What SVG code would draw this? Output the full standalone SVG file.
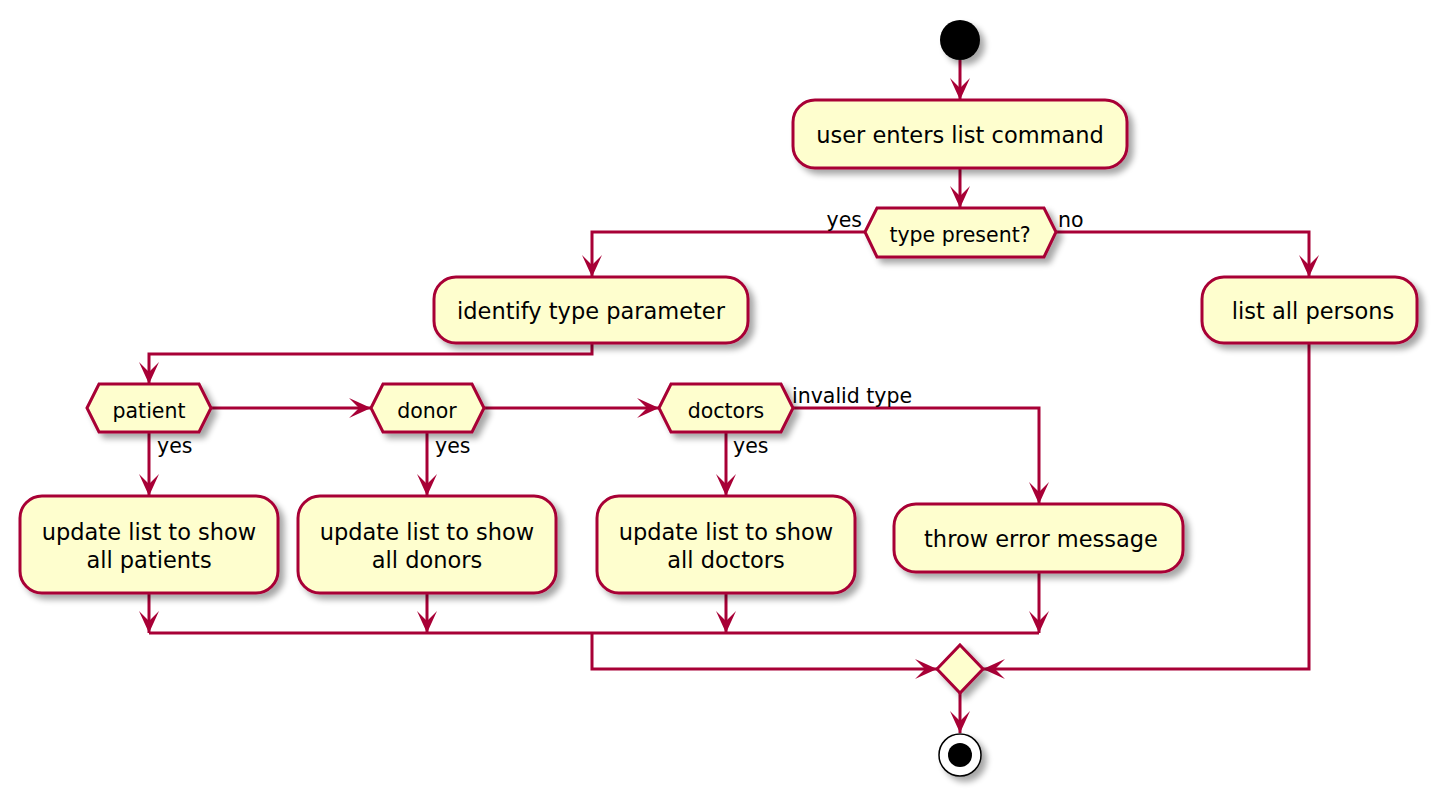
<svg xmlns="http://www.w3.org/2000/svg" width="1436" height="797" viewBox="0 0 1436 797">
<style>
.box{fill:#FEFECE;stroke:#A80036;stroke-width:3}
.dec{fill:#FEFECE;stroke:#A80036;stroke-width:3;stroke-linejoin:miter}
.t{font-family:"DejaVu Sans","Liberation Sans",sans-serif;font-size:22.5px;fill:#000;text-anchor:middle}
.td{font-family:"DejaVu Sans","Liberation Sans",sans-serif;font-size:20.5px;fill:#000;text-anchor:middle}
.lbl{font-family:"DejaVu Sans","Liberation Sans",sans-serif;font-size:20.5px;fill:#000}
.c{fill:none;stroke:#A80036;stroke-width:3}
.a{marker-end:url(#arr)}
</style>
<defs>
<filter id="sh" x="-20%" y="-20%" width="150%" height="160%">
<feGaussianBlur in="SourceAlpha" stdDeviation="3"/>
<feOffset dx="5" dy="5" result="b"/>
<feComponentTransfer><feFuncA type="linear" slope="0.35"/></feComponentTransfer>
<feMerge><feMergeNode/><feMergeNode in="SourceGraphic"/></feMerge>
</filter>
<marker id="arr" viewBox="0 0 22 20" refX="22" refY="10" markerWidth="22" markerHeight="20" markerUnits="userSpaceOnUse" orient="auto">
<path d="M0,0 L22,10 L0,20 L10,10 Z" fill="#A80036"/>
</marker>
</defs>
<rect width="1436" height="797" fill="#FFFFFF"/>
<g id="connectors">
<path class="c a" d="M960,60 L960,100"/>
<path class="c a" d="M960,168 L960,208"/>
<path class="c a" d="M865,232 L592,232 L592,277"/>
<path class="c a" d="M1056,232 L1309,232 L1309,277"/>
<path class="c a" d="M592,343 L592,354 L149,354 L149,384"/>
<path class="c a" d="M211,408 L371,408"/>
<path class="c a" d="M484,408 L659,408"/>
<path class="c a" d="M793,408 L1039,408 L1039,504"/>
<path class="c a" d="M149,432 L149,496"/>
<path class="c a" d="M427,432 L427,496"/>
<path class="c a" d="M726,432 L726,496"/>
<path class="c a" d="M149,593 L149,633"/>
<path class="c a" d="M427,593 L427,633"/>
<path class="c a" d="M726,593 L726,633"/>
<path class="c a" d="M1039,572 L1039,633"/>
<path class="c" d="M149,633 L1039,633"/>
<path class="c a" d="M592,633 L592,669 L937,669"/>
<path class="c a" d="M1309,343 L1309,669 L983,669"/>
<path class="c a" d="M960,693 L960,733"/>
<text class="lbl" x="862" y="227" text-anchor="end">yes</text>
<text class="lbl" x="1058" y="227">no</text>
<text class="lbl" x="157" y="453">yes</text>
<text class="lbl" x="435" y="453">yes</text>
<text class="lbl" x="733" y="453">yes</text>
<text class="lbl" x="792" y="403">invalid type</text>
</g>
<g id="start" filter="url(#sh)"><circle cx="960" cy="40" r="20" fill="#000"/></g>
<g id="enter" filter="url(#sh)">
<rect class="box" x="793" y="100" width="334" height="68" rx="22"/>
</g>
<text class="t" x="960" y="143">user enters list command</text>
<g id="typePresent" filter="url(#sh)">
<polygon class="dec" points="865,232 877,208 1044,208 1056,232 1044,257 877,257"/>
</g>
<text class="td" x="960" y="242">type present?</text>
<g id="identify" filter="url(#sh)">
<rect class="box" x="434" y="277" width="314" height="66" rx="22"/>
</g>
<text class="t" x="591" y="319">identify type parameter</text>
<g id="listAll" filter="url(#sh)">
<rect class="box" x="1202" y="277" width="215" height="66" rx="22"/>
</g>
<text class="t" x="1313" y="319">list all persons</text>
<g id="patient" filter="url(#sh)">
<polygon class="dec" points="87,408 99,384 199,384 211,408 199,432 99,432"/>
</g>
<text class="td" x="149" y="418">patient</text>
<g id="donor" filter="url(#sh)">
<polygon class="dec" points="371,408 383,384 472,384 484,408 472,432 383,432"/>
</g>
<text class="td" x="427" y="418">donor</text>
<g id="doctors" filter="url(#sh)">
<polygon class="dec" points="659,408 671,384 781,384 793,408 781,432 671,432"/>
</g>
<text class="td" x="726" y="418">doctors</text>
<g id="patients" filter="url(#sh)">
<rect class="box" x="20" y="496" width="258" height="97" rx="22"/>
</g>
<text class="t" x="149" y="540">update list to show<tspan x="149" dy="28">all patients</tspan></text>
<g id="donors" filter="url(#sh)">
<rect class="box" x="298" y="496" width="258" height="97" rx="22"/>
</g>
<text class="t" x="427" y="540">update list to show<tspan x="427" dy="28">all donors</tspan></text>
<g id="doctorsBox" filter="url(#sh)">
<rect class="box" x="597" y="496" width="258" height="97" rx="22"/>
</g>
<text class="t" x="726" y="540">update list to show<tspan x="726" dy="28">all doctors</tspan></text>
<g id="error" filter="url(#sh)">
<rect class="box" x="894" y="504" width="289" height="68" rx="22"/>
</g>
<text class="t" x="1041" y="547">throw error message</text>
<g id="merge" filter="url(#sh)">
<polygon class="dec" points="960,645 983,669 960,693 937,669"/>
</g>
<g id="end" filter="url(#sh)">
<circle cx="960" cy="755" r="21" fill="#FFFFFF" stroke="#000" stroke-width="1.5"/>
<circle cx="960" cy="755" r="12" fill="#000"/>
</g>
</svg>
